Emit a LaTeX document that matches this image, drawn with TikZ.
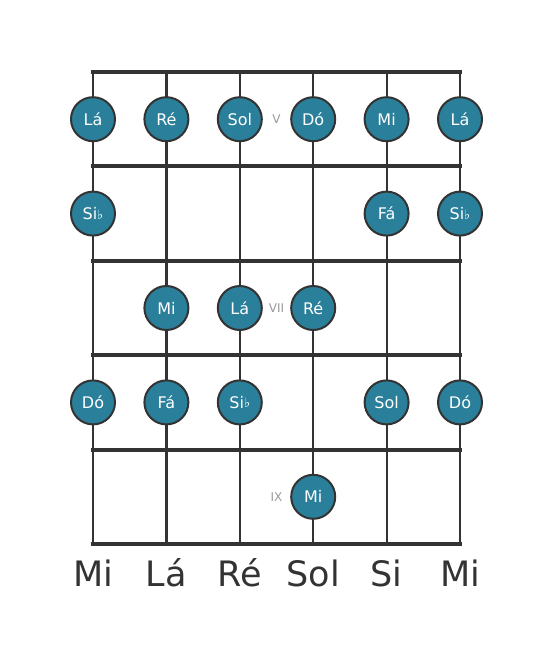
\documentclass[tikz,border=0pt]{standalone}
\usepackage{fontspec}
\setmainfont{DejaVu Sans}
\usetikzlibrary{positioning}
\definecolor{dotfill}{HTML}{2A7F9B}
\definecolor{gridline}{HTML}{333333}
\tikzset{
    fret/.style={line width=4pt, draw=gridline},
    guitarstring/.style={line width=2.2pt, draw=gridline},
    notedot/.style={circle, draw=gridline, line width=2pt, fill=dotfill, minimum size=44pt, inner sep=0pt, text=white, font=\fontsize{16}{16}\selectfont},
    fretnum/.style={text=gray!80, font=\fontsize{12}{12}\selectfont},
    stringname/.style={text=gridline, anchor=base, font=\fontsize{35}{35}\selectfont}
}
\newcommand{\flatsym}{{\fontsize{13}{13}\selectfont\raisebox{0.5pt}{♭}}}

\begin{document}
\begin{tikzpicture}[x=1pt, y=-1pt]
            \useasboundingbox (0,0) rectangle (553,656);
            % strings
            \foreach \s/\x in {1/93, 2/166.4, 3/239.8, 4/313.2, 5/386.6, 6/460}
                \draw[guitarstring] (\x,72) -- (\x,544);
            % frets
            \foreach \y in {72, 166.4, 260.8, 355.2, 449.6, 544}
                \draw[fret] (91,\y) -- (462,\y);
            % fret V
            \node[notedot] (la1) at (93,119.2) {Lá};
            \node[notedot] (re1) at (166.4,119.2) {Ré};
            \node[notedot] (sol1) at (239.8,119.2) {Sol};
            \node[notedot] (do1) at (313.2,119.2) {Dó};
            \node[notedot] (mi1) at (386.6,119.2) {Mi};
            \node[notedot] (la2) at (460,119.2) {Lá};
            \node[fretnum] (fretV) at (276.5,119.2) {V};
            % fret VI
            \node[notedot] (sib1) at (93,213.6) {Si\flatsym};
            \node[notedot] (fa1) at (386.6,213.6) {Fá};
            \node[notedot] (sib2) at (460,213.6) {Si\flatsym};
            % fret VII
            \node[notedot] (mi2) at (166.4,308) {Mi};
            \node[notedot] (la3) at (239.8,308) {Lá};
            \node[notedot] (re2) at (313.2,308) {Ré};
            \node[fretnum] (fretVII) at (276.5,308) {VII};
            % fret VIII
            \node[notedot] (do2) at (93,402.4) {Dó};
            \node[notedot] (fa2) at (166.4,402.4) {Fá};
            \node[notedot] (sib3) at (239.8,402.4) {Si\flatsym};
            \node[notedot] (sol2) at (386.6,402.4) {Sol};
            \node[notedot] (do3) at (460,402.4) {Dó};
            % fret IX
            \node[notedot] (mi3) at (313.2,496.8) {Mi};
            \node[fretnum] (fretIX) at (276.5,496.8) {IX};
            % open strings
            \node[stringname] (open1) at (93,586) {Mi};
            \node[stringname] (open2) at (166.4,586) {Lá};
            \node[stringname] (open3) at (239.8,586) {Ré};
            \node[stringname] (open4) at (313.2,586) {Sol};
            \node[stringname] (open5) at (386.6,586) {Si};
            \node[stringname] (open6) at (460,586) {Mi};
        \end{tikzpicture}
\end{document}
